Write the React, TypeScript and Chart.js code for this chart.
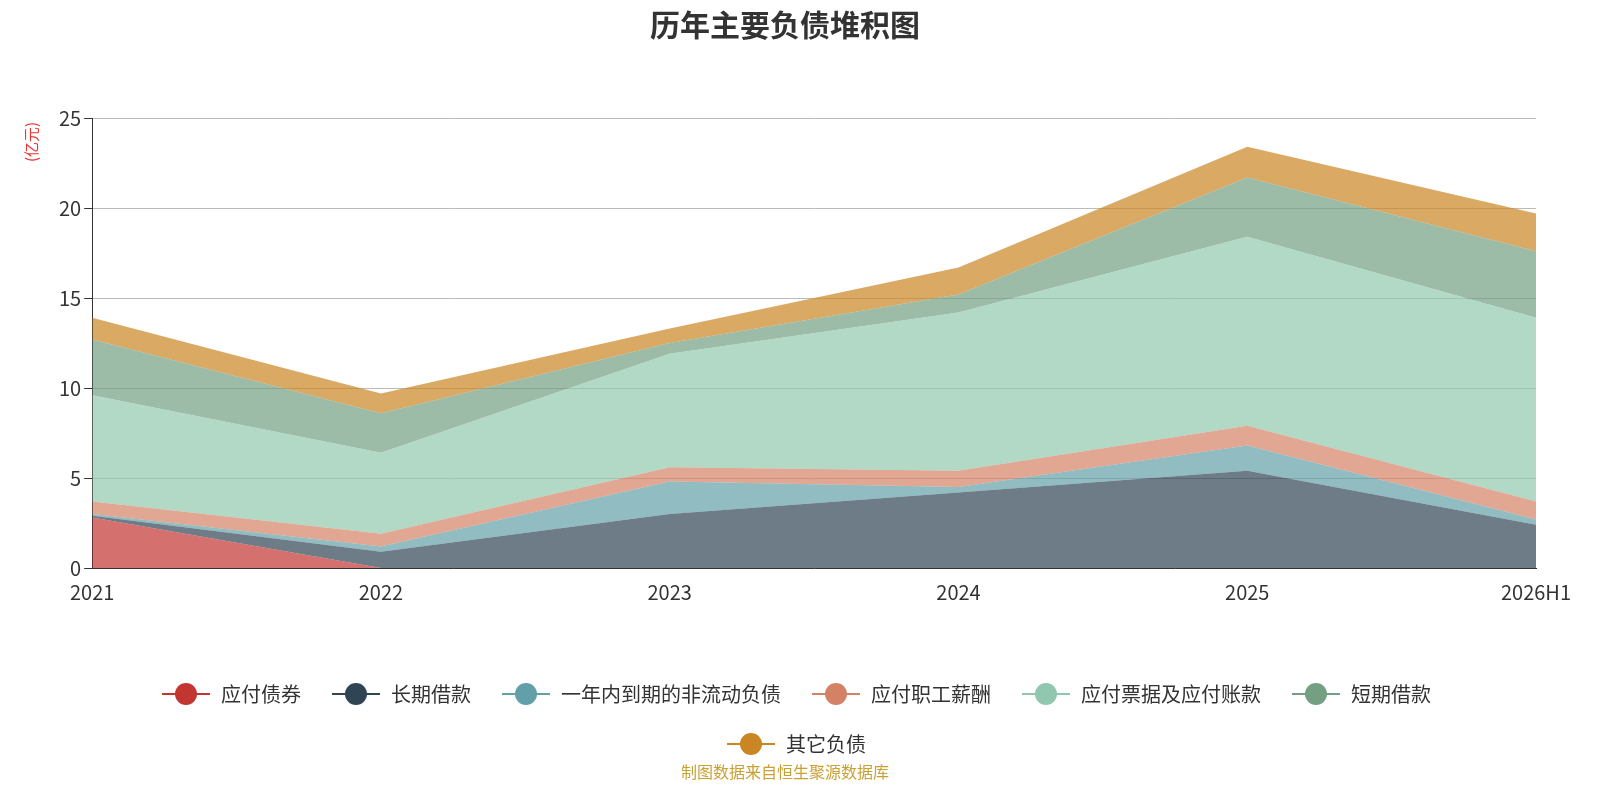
import React, { useEffect, useRef } from "react";
import { Chart, registerables } from "chart.js";
Chart.register(...registerables);

const categories = ["2021", "2022", "2023", "2024", "2025", "2026H1"];
const bonds = [2.8, 0, 0, 0, 0, 0];
const longLoans = [0.1, 0.9, 3.0, 4.2, 5.4, 2.4];
const currentNonCurrent = [0.1, 0.3, 1.8, 0.3, 1.4, 0.3];
const payroll = [0.7, 0.7, 0.8, 0.9, 1.1, 1.0];
const notesPayable = [5.9, 4.5, 6.3, 8.8, 10.5, 10.2];
const shortLoans = [3.1, 2.2, 0.6, 1.0, 3.3, 3.7];
const others = [1.2, 1.1, 0.8, 1.5, 1.7, 2.1];
const seriesNames = ["应付债券", "长期借款", "一年内到期的非流动负债", "应付职工薪酬", "应付票据及应付账款", "短期借款", "其它负债"];
const seriesColors = ["#c23531", "#2f4554", "#61a0a8", "#d48265", "#91c7ae", "#749f83", "#ca8622"];
const yTicks = [0, 5, 10, 15, 20, 25];

function icon(color: string) {
  const c = document.createElement("canvas");
  c.width = 48; c.height = 26;
  const g = c.getContext("2d")!;
  g.strokeStyle = color; g.lineWidth = 2;
  g.beginPath(); g.moveTo(0, 13); g.lineTo(48, 13); g.stroke();
  g.fillStyle = color;
  g.beginPath(); g.arc(24, 13, 11, 0, Math.PI * 2); g.fill();
  return c;
}

function hexA(h: string, a: number) {
  const n = parseInt(h.slice(1), 16);
  return `rgba(${n >> 16},${(n >> 8) & 255},${n & 255},${a})`;
}

export default function App() {
  const ref = useRef<HTMLCanvasElement>(null);
  useEffect(() => {
    const values = [bonds, longLoans, currentNonCurrent, payroll, notesPayable, shortLoans, others];
    const font = "'Microsoft YaHei','Noto Sans CJK SC',sans-serif";
    const deco = {
      id: "deco",
      afterDraw(ch: any) {
        const g = ch.ctx;
        g.save();
        g.fillStyle = "#333";
        g.font = `bold 30px ${font}`;
        g.textAlign = "center"; g.textBaseline = "middle";
        g.fillText("历年主要负债堆积图", 785, 25);
        g.fillStyle = "#c9a032";
        g.font = `16px ${font}`;
        g.fillText("制图数据来自恒生聚源数据库", 785, 772);
        g.translate(31, 142); g.rotate(-Math.PI / 2);
        g.fillStyle = "#e33"; g.font = `15px ${font}`;
        g.fillText("(亿元)", 0, 0);
        g.restore();
      },
    };
    const chart = new Chart(ref.current!, {
      type: "line",
      data: {
        labels: categories,
        datasets: values.map((v, i) => ({
          label: seriesNames[i],
          data: v,
          fill: i === 0 ? "origin" : "-1",
          backgroundColor: hexA(seriesColors[i], 0.7),
          borderColor: seriesColors[i],
          borderWidth: 0,
          pointRadius: 0,
          pointStyle: icon(seriesColors[i]) as any,
          tension: 0,
        })),
      },
      options: {
        animation: false,
        responsive: false,
        layout: { padding: { top: 118, left: 56, right: 64, bottom: 36 } },
        scales: {
          x: {
            offset: false,
            grid: { display: false, drawTicks: true },
            border: { color: "#333" },
            ticks: { color: "#333", font: { size: 20, family: font }, maxRotation: 0, padding: 4 },
            afterFit: (s: any) => { s.height += 46; },
          },
          y: {
            stacked: true, min: 0, max: 25,
            afterBuildTicks: (s: any) => { s.ticks = yTicks.map((v) => ({ value: v })); },
            grid: { color: "#bbb", drawTicks: true, tickColor: "#333" },
            border: { color: "#333" },
            ticks: { color: "#333", font: { size: 20, family: font } },
          },
        },
        plugins: {
          title: { display: false },
          tooltip: { enabled: false },
          legend: {
            position: "bottom",
            labels: { usePointStyle: true, pointStyleWidth: 50, color: "#333", font: { size: 20, family: font }, padding: 30 },
          },
        },
      },
      plugins: [deco],
    });
    return () => chart.destroy();
  }, []);
  return <canvas ref={ref} width={1600} height={800} style={{ position: "fixed", left: 0, top: 0 }} />;
}
